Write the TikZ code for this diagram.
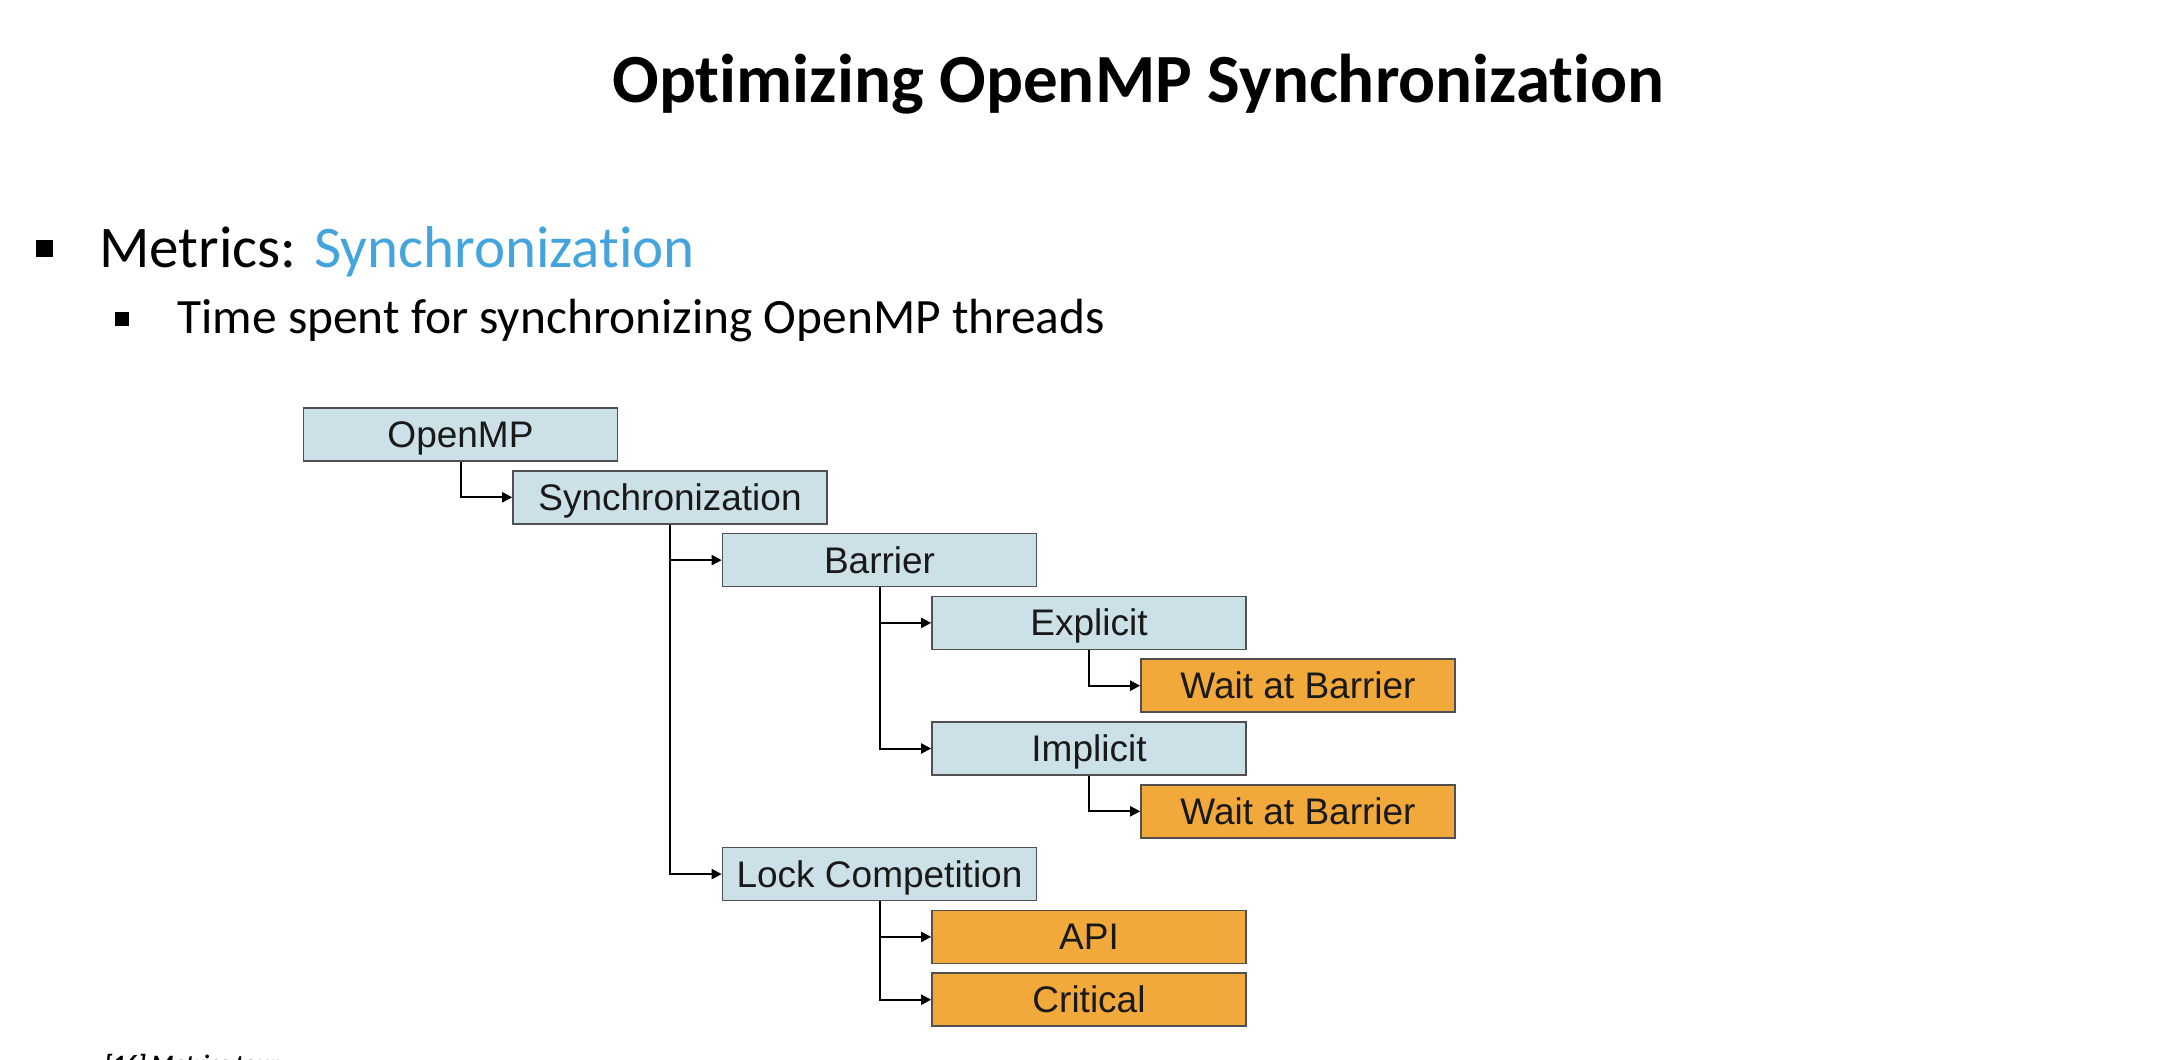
\documentclass[tikz,border=0pt]{standalone}
\usepackage{fontspec}
\setmainfont{Carlito}[Ligatures=NoCommon]
\newfontfamily\boxfont{Liberation Sans}
\usetikzlibrary{arrows.meta}

\definecolor{boxblue}{HTML}{CCE0E8}
\definecolor{boxorange}{HTML}{F2A93B}
\definecolor{boxedge}{HTML}{505050}
\definecolor{accent}{HTML}{44A4DE}

\tikzset{
  tree/.style={draw=boxedge, line width=0.8pt, rectangle, inner sep=0pt,
    minimum width=157pt, minimum height=26.5pt,
    text height=13pt, text depth=0pt,
    font=\boxfont\fontsize{18.5pt}{21pt}\selectfont, text=black!90},
  group/.style={tree, fill=boxblue},
  leaf/.style={tree, fill=boxorange},
  conn/.style={line width=1pt, -{Triangle[length=5pt,width=5pt]}},
  bigbullet/.style={fill=black, minimum size=8.5pt, inner sep=0pt},
  smallbullet/.style={fill=black, minimum size=7pt, inner sep=0pt},
}

\begin{document}
\begin{tikzpicture}[x=0.5pt, y=-0.5pt]
  % page
  \fill[white] (0,0) rectangle (2164,1060);
  \useasboundingbox (0,0) rectangle (2164,1060);

  % heading and bullet text
  \node (title) [anchor=base, font=\bfseries\fontsize{34.5pt}{40pt}\selectfont]
    at (1138.5,102) {Optimizing OpenMP Synchronization};

  \node (b1) [bigbullet] at (44.5,248) {};
  \node (l1) [anchor=base west, inner sep=0pt, font=\fontsize{29.5pt}{34pt}\selectfont]
    at (99,267) {Metrics: \textcolor{accent}{Synchronization}};

  \node (b2) [smallbullet] at (122,319) {};
  \node (l2) [anchor=base west, inner sep=0pt, font=\fontsize{24.7pt}{28pt}\selectfont]
    at (177,333) {Time spent for synchronizing OpenMP threads};

  % metric tree
  \node (openmp)   [group] at (460.5, 434.5) {OpenMP};
  \node (sync)     [group] at (670,   497.3) {Synchronization};
  \node (barrier)  [group] at (879.5, 560.1) {Barrier};
  \node (explicit) [group] at (1089,  622.9) {Explicit};
  \node (waitA)    [leaf]  at (1298,  685.7) {Wait at Barrier};
  \node (implicit) [group] at (1089,  748.5) {Implicit};
  \node (waitB)    [leaf]  at (1298,  811.3) {Wait at Barrier};
  \node (lock)     [group] at (879.5, 874.1) {Lock Competition};
  \node (api)      [leaf]  at (1089,  936.9) {API};
  \node (critical) [leaf]  at (1089,  999.7) {Critical};

  \draw[conn] (openmp.south)   |- (sync.west);
  \draw[conn] (sync.south)     |- (barrier.west);
  \draw[conn] (sync.south)     |- (lock.west);
  \draw[conn] (barrier.south)  |- (explicit.west);
  \draw[conn] (barrier.south)  |- (implicit.west);
  \draw[conn] (explicit.south) |- (waitA.west);
  \draw[conn] (implicit.south) |- (waitB.west);
  \draw[conn] (lock.south)     |- (api.west);
  \draw[conn] (lock.south)     |- (critical.west);

  % source line at the foot of the page
  \node (source) [anchor=base west, inner sep=0pt,
    font=\bfseries\itshape\fontsize{12.5pt}{14pt}\selectfont]
    at (104,1072) {[16] Metrics tour};
\end{tikzpicture}
\end{document}
